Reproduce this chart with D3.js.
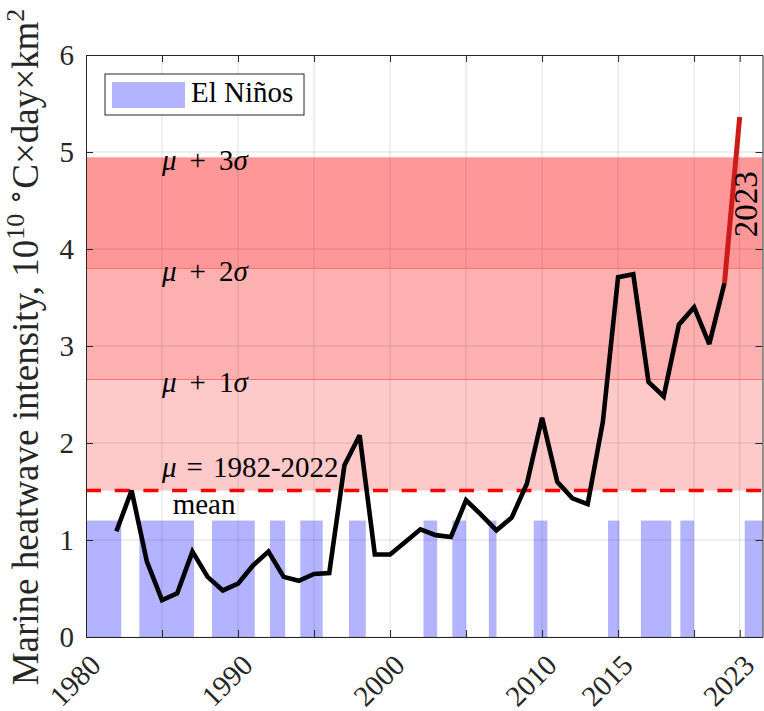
<!DOCTYPE html>
<html>
<head>
<meta charset="utf-8">
<script src="https://cdn.jsdelivr.net/npm/d3@7"></script>
<style>
  body { margin: 0; background: #fff; }
  svg text { font-family: "Liberation Serif", "Times New Roman", serif; }
</style>
</head>
<body>
<svg id="chart" width="764" height="711"></svg>
<script>
// Annual marine heatwave intensity (10^10 °C·day·km²), 1982–2022
const years = [1982, 1983, 1984, 1985, 1986, 1987, 1988, 1989, 1990, 1991,
               1992, 1993, 1994, 1995, 1996, 1997, 1998, 1999, 2000, 2001,
               2002, 2003, 2004, 2005, 2006, 2007, 2008, 2009, 2010, 2011,
               2012, 2013, 2014, 2015, 2016, 2017, 2018, 2019, 2020, 2021, 2022];
const intensity = [1.09, 1.51, 0.78, 0.38, 0.45, 0.88, 0.62, 0.48, 0.55, 0.74,
                   0.88, 0.62, 0.58, 0.65, 0.66, 1.77, 2.08, 0.85, 0.85, 0.98,
                   1.11, 1.05, 1.03, 1.41, 1.26, 1.10, 1.23, 1.58, 2.26, 1.60,
                   1.43, 1.37, 2.22, 3.71, 3.74, 2.63, 2.48, 3.22, 3.40, 3.02, 3.65];

// The record year, drawn as its own segment
const recordYear = 2023;
const recordValue = 5.36;

// El Niño periods (decimal years)
const ninoStart = [1979.5, 1983.51, 1988.29, 1992.1, 1994.1, 1997.3, 2002.2,
                   2004.1, 2006.5, 2009.45, 2014.34, 2016.5, 2019.1, 2023.33];
const ninoEnd   = [1982.32, 1987.1, 1991.1, 1993.1, 1995.57, 1998.4, 2003.1,
                   2005.0, 2007.0, 2010.35, 2015.09, 2018.5, 2020.0, 2025.0];
const ninoHeight = 1.2;

// 1982–2022 climatology
const climMean = 1.51;
const climSigma = 1.145;
const sigmaLevels = [1, 2, 3];
const sigmaLabels = ["1", "2", "3"];

// Axes
const xLimits = [1980, 2024.5];
const yLimits = [0, 6];
const xTicks = [1980, 1985, 1990, 1995, 2000, 2005, 2010, 2015, 2020, 2023];
const xTickLabels = ["1980", "", "1990", "", "2000", "", "2010", "2015", "", "2023"];
const yTicks = [0, 1, 2, 3, 4, 5, 6];

// ---------------------------------------------------------------------------
const W = 764, H = 711;
const margin = { top: 55, right: 1.5, bottom: 74, left: 86 };
const axisColor = "#262626";
const serif = '"Liberation Serif", "Times New Roman", serif';

const svg = d3.select("#chart");
const x = d3.scaleLinear().domain(xLimits).range([margin.left, W - margin.right]);
const y = d3.scaleLinear().domain(yLimits).range([H - margin.bottom, margin.top]);
const x0 = x(xLimits[0]), x1 = x(xLimits[1]);

svg.append("defs").append("clipPath").attr("id", "plot-area")
  .append("rect")
  .attr("x", x0).attr("y", y(yLimits[1]))
  .attr("width", x1 - x0).attr("height", y(yLimits[0]) - y(yLimits[1]));

const plot = svg.append("g").attr("clip-path", "url(#plot-area)");

// Shaded sigma bands above the mean
const bandColors = ["#fec9c9", "#fdb0b0", "#fe9898"];
plot.append("g").selectAll("rect")
  .data(sigmaLevels)
  .join("rect")
  .attr("x", x0)
  .attr("width", x1 - x0)
  .attr("y", k => y(climMean + k * climSigma))
  .attr("height", k => y(climMean + (k - 1) * climSigma) - y(climMean + k * climSigma))
  .attr("fill", (k, i) => bandColors[i]);

plot.append("g").selectAll("line")
  .data(sigmaLevels.slice(0, 2))
  .join("line")
  .attr("x1", x0).attr("x2", x1)
  .attr("y1", k => y(climMean + k * climSigma))
  .attr("y2", k => y(climMean + k * climSigma))
  .attr("stroke", "#ff6f6f")
  .attr("stroke-width", 1);

// El Niño bars
plot.append("g").selectAll("rect")
  .data(ninoStart.map((s, i) => ({ s, e: ninoEnd[i] })))
  .join("rect")
  .attr("x", d => x(d.s))
  .attr("width", d => x(d.e) - x(d.s))
  .attr("y", y(ninoHeight))
  .attr("height", y(0) - y(ninoHeight))
  .attr("fill", "#b3b3ff");

// Grid
const grid = plot.append("g")
  .attr("stroke", axisColor)
  .attr("stroke-opacity", 0.15)
  .attr("stroke-width", 1);
grid.selectAll("line.gx").data(xTicks).join("line").attr("class", "gx")
  .attr("x1", d => x(d)).attr("x2", d => x(d))
  .attr("y1", y(yLimits[0])).attr("y2", y(yLimits[1]));
grid.selectAll("line.gy").data(yTicks).join("line").attr("class", "gy")
  .attr("y1", d => y(d)).attr("y2", d => y(d))
  .attr("x1", x0).attr("x2", x1);

// Mean line
plot.append("line")
  .attr("x1", x0).attr("x2", x1)
  .attr("y1", y(climMean)).attr("y2", y(climMean))
  .attr("stroke", "#ff0000")
  .attr("stroke-width", 3.5)
  .attr("stroke-dasharray", "15,13.7");

// Intensity series
const line = d3.line().x(d => x(d[0])).y(d => y(d[1]));
const series = years.map((yr, i) => [yr, intensity[i]]);
plot.append("path")
  .datum(series)
  .attr("d", line)
  .attr("fill", "none")
  .attr("stroke", "#000")
  .attr("stroke-width", 4.6)
  .attr("stroke-linejoin", "miter")
  .attr("stroke-miterlimit", 3);

plot.append("path")
  .datum([series[series.length - 1], [recordYear, recordValue]])
  .attr("d", line)
  .attr("fill", "none")
  .attr("stroke", "#cd1b1b")
  .attr("stroke-width", 5);

// Annotations
const ann = svg.append("g").attr("font-family", serif).attr("font-size", 29).attr("fill", "#000");
sigmaLevels.forEach((k, i) => {
  const t = ann.append("text")
    .attr("x", x(1985))
    .attr("y", y(climMean + k * climSigma) + 13);
  t.append("tspan").attr("font-style", "italic").text("μ");
  t.append("tspan").attr("dx", 13).text("+");
  t.append("tspan").attr("dx", 13).text(sigmaLabels[i]);
  t.append("tspan").attr("font-style", "italic").text("σ");
});
const meanText = ann.append("text")
  .attr("x", x(1985))
  .attr("y", y(climMean) - 14);
meanText.append("tspan").attr("font-style", "italic").text("μ");
meanText.append("tspan").attr("dx", 10).text("=");
meanText.append("tspan").attr("dx", 10).text("1982-2022");
ann.append("text")
  .attr("x", x(1985.7))
  .attr("y", y(climMean) + 23)
  .text("mean");

ann.append("text")
  .attr("transform", `translate(${x(recordYear) + 17},${y(4.12)}) rotate(-90)`)
  .attr("font-size", 33)
  .text(String(recordYear));

// Axes (box with inward ticks)
function styleAxis(g) {
  g.attr("font-family", serif).attr("font-size", null);
  g.selectAll("path.domain").attr("stroke", axisColor).attr("stroke-width", 1);
  g.selectAll(".tick line").attr("stroke", axisColor).attr("stroke-width", 1);
  g.selectAll(".tick text")
    .attr("fill", axisColor)
    .attr("font-size", 29);
}

svg.append("g")
  .attr("transform", `translate(0,${y(yLimits[0])})`)
  .call(d3.axisBottom(x).tickValues(xTicks)
    .tickFormat((d, i) => xTickLabels[i]).tickSize(-7).tickSizeOuter(0))
  .call(styleAxis)
  .call(g => g.selectAll(".tick text")
    .attr("x", null).attr("y", null).attr("dy", null)
    .attr("text-anchor", "end")
    .attr("transform", "translate(16,30) rotate(-45)"));

svg.append("g")
  .attr("transform", `translate(0,${y(yLimits[1])})`)
  .call(d3.axisTop(x).tickValues(xTicks).tickFormat("").tickSize(-7).tickSizeOuter(0))
  .call(styleAxis);

svg.append("g")
  .attr("transform", `translate(${x0},0)`)
  .call(d3.axisLeft(y).tickValues(yTicks).tickFormat(d3.format("d"))
    .tickSize(-7).tickSizeOuter(0).tickPadding(12))
  .call(styleAxis);

svg.append("g")
  .attr("transform", `translate(${x1},0)`)
  .call(d3.axisRight(y).tickValues(yTicks).tickFormat("").tickSize(-7).tickSizeOuter(0))
  .call(styleAxis);

// Y axis label
const yl = svg.append("text")
  .attr("transform", `translate(38,${(y(yLimits[0]) + y(yLimits[1])) / 2 + 1}) rotate(-90)`)
  .attr("text-anchor", "middle")
  .attr("font-family", serif)
  .attr("font-size", 37)
  .attr("fill", axisColor);
yl.append("tspan").text("Marine heatwave intensity, 10");
yl.append("tspan").attr("font-size", 26).attr("dy", -14).text("10");
yl.append("tspan").attr("font-size", 26).attr("dx", 9).text("∘");
yl.append("tspan").attr("dy", 14).text("C×day×km");
yl.append("tspan").attr("font-size", 26).attr("dy", -14).text("2");

// Legend
const lg = svg.append("g").attr("transform", `translate(${x0 + 19},${y(yLimits[1]) + 19})`);
lg.append("rect")
  .attr("width", 199).attr("height", 41)
  .attr("fill", "#fff").attr("stroke", axisColor).attr("stroke-width", 1);
lg.append("rect")
  .attr("x", 7).attr("y", 8).attr("width", 73).attr("height", 26)
  .attr("fill", "#b3b3ff");
lg.append("text")
  .attr("x", 86).attr("y", 28)
  .attr("font-family", serif)
  .attr("font-size", 29).attr("fill", "#000")
  .text("El Niños");
</script>
</body>
</html>
